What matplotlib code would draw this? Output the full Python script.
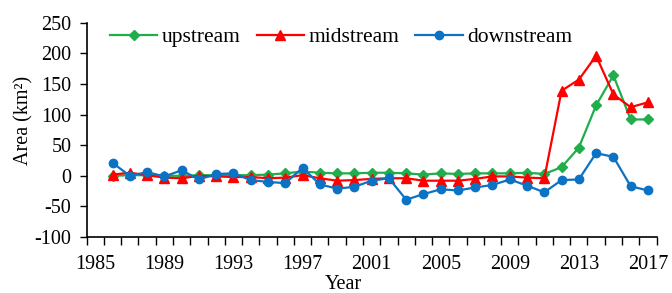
import matplotlib
matplotlib.use("Agg")
import matplotlib.pyplot as plt
import numpy as np

plt.rcParams['font.family'] = ['Liberation Serif', 'DejaVu Serif']

# data
years = list(range(1986, 2018))
upstream = [0, 1, 1, 0, 0, 1, 1, 1, 1, 2, 4, 7, 5, 4, 4, 5,
            5, 4, 2, 4, 3, 4, 4, 4, 5, 3, 14, 46, 115, 164, 92, 92]
midstream = [2, 5, 1, -3, -4, 0, -1, -2, -2, -4, -3, 1, -4, -8, -7, -5,
             -4, -4, -8, -8, -8, -5, -1, -1, -3, -4, 139, 157, 196, 133, 112, 120]
downstream = [21, 0, 6, -1, 9, -6, 3, 4, -7, -10, -12, 13, -14, -21, -18, -8,
              -4, -39, -30, -22, -24, -19, -15, -6, -16, -27, -7, -6, 37, 31, -17, -24]
year_labels = [1985, 1989, 1993, 1997, 2001, 2005, 2009, 2013, 2017]
y_ticks = [-100, -50, 0, 50, 100, 150, 200, 250]

fs = 14.5

fig = plt.figure(figsize=(6.72, 2.93), dpi=100)
ax = fig.add_axes([0.129, 0.191, 0.848, 0.7315])

ax.plot(years, upstream, color='#1fae4b', lw=1.6, marker='D', ms=4.8, label='upstream')
ax.plot(years, midstream, color='#ff0000', lw=1.6, marker='^', ms=7, label='midstream')
ax.plot(years, downstream, color='#0b72c4', lw=1.6, marker='o', ms=6, label='downstream')

ax.set_xlim(1984.5, 2017.5)
ax.set_ylim(-100, 250)

# excel style category axis: ticks between years, labels on years
ax.set_xticks(np.arange(1984.5, 2018, 1.0))
ax.set_xticklabels([])
ax.set_xticks(year_labels, minor=True)
ax.set_xticklabels([str(y) for y in year_labels], minor=True, fontsize=fs)
ax.tick_params(axis='x', which='major', direction='out', length=6, width=1)
ax.tick_params(axis='x', which='minor', length=0, pad=13)

ax.set_yticks(y_ticks)
ax.set_yticklabels([str(v) for v in y_ticks], fontsize=fs)
ax.tick_params(axis='y', direction='out', length=5, width=1, pad=6)

ax.spines['top'].set_visible(False)
ax.spines['right'].set_visible(False)
ax.spines['left'].set_linewidth(1.2)
ax.spines['bottom'].set_linewidth(1.2)

ax.set_xlabel('Year', fontsize=fs, labelpad=0)
ax.xaxis.set_label_coords(0.451, -0.175)
ax.set_ylabel('Area (km²)', fontsize=fs)
ax.yaxis.set_label_coords(-0.094, 0.546)

ax.legend(loc='center left', bbox_to_anchor=(110 / 672, 1 - 37 / 293),
          bbox_transform=fig.transFigure, ncol=3, frameon=False,
          borderpad=0, borderaxespad=0, fontsize=15.5,
          handlelength=2.2, columnspacing=0.75, handletextpad=0.2)

fig.savefig('out.png', dpi=100)
